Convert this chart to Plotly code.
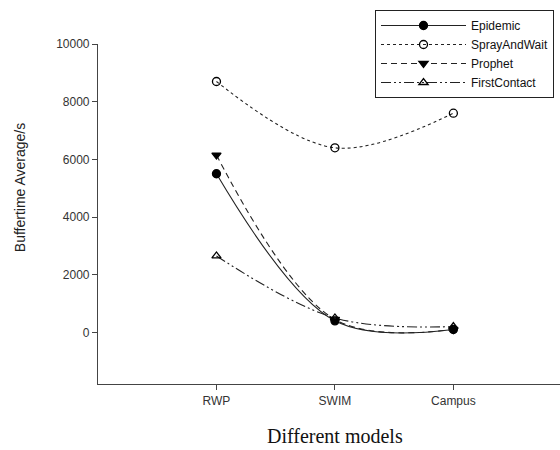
import plotly.graph_objects as go

# Mobility models on the x axis
models = ["RWP", "SWIM", "Campus"]
model_pos = [1, 2, 3]

# Average buffer time (s) per routing protocol
epidemic = [5500, 400, 100]
spray_and_wait = [8700, 6400, 7600]
prophet = [6150, 450, 100]
first_contact = [2650, 500, 200]

y_ticks = [0, 2000, 4000, 6000, 8000, 10000]
y_tick_labels = [str(v) for v in y_ticks]

series = [
    ("Epidemic", epidemic, "solid", "circle", "black"),
    ("SprayAndWait", spray_and_wait, "dot", "circle-open", "black"),
    ("Prophet", prophet, "6px,4px", "triangle-down", "black"),
    ("FirstContact", first_contact, "10px,3px,2px,3px,2px,3px", "triangle-up-open", "black"),
]

fig = go.Figure()
for name, vals, dash, symbol, col in series:
    fig.add_trace(go.Scatter(
        x=model_pos, y=vals, name=name, mode="lines+markers",
        line=dict(color="#222", width=1.1, dash=dash, shape="spline", smoothing=1.0),
        marker=dict(symbol=symbol, size=8, color=col, line=dict(color="black", width=1.3)),
    ))

axis_font = dict(family="Arial, Liberation Sans, sans-serif", size=12, color="#333")

fig.update_layout(
    width=560, height=450,
    margin=dict(l=98, r=0, t=44, b=66, autoexpand=False),
    paper_bgcolor="white", plot_bgcolor="white",
    showlegend=True,
    legend=dict(
        x=375 / 560, y=1 - 10 / 450, xref="container", yref="container",
        xanchor="left", yanchor="top",
        bordercolor="#222", borderwidth=1, bgcolor="white",
        font=dict(family="Arial, Liberation Sans, sans-serif", size=12, color="#111"),
        tracegroupgap=0, itemwidth=85,
    ),
    xaxis=dict(
        range=[0, 3.9], tickvals=model_pos, ticktext=models,
        showgrid=False, zeroline=False,
        showline=True, linecolor="#444", linewidth=1.2,
        ticks="outside", ticklen=5, tickcolor="#444",
        tickfont=axis_font,
    ),
    yaxis=dict(
        range=[-1790, 10000], tickvals=y_ticks, ticktext=y_tick_labels,
        showgrid=False, zeroline=False,
        showline=True, linecolor="#444", linewidth=1.2,
        ticks="outside", ticklen=5, tickcolor="#444",
        tickfont=axis_font,
    ),
    annotations=[
        dict(text="Buffertime Average/s", textangle=-90,
             xref="paper", x=0, xshift=-78, yref="y", y=5000,
             showarrow=False, xanchor="center", yanchor="middle",
             font=dict(family="Arial, Liberation Sans, sans-serif", size=14, color="#222")),
        dict(text="Different models",
             xref="x", x=2, yref="paper", y=0, yshift=-52,
             showarrow=False, xanchor="center", yanchor="middle",
             font=dict(family="Liberation Serif, Times New Roman, serif", size=20, color="#111")),
    ],
)

fig.write_html("out.html")
